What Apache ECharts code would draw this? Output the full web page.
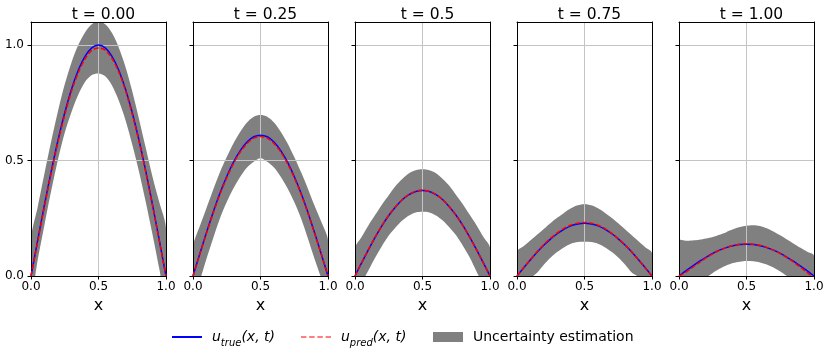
<!DOCTYPE html>
<html>
<head>
<meta charset="utf-8">
<script src="https://cdn.jsdelivr.net/npm/echarts@6/dist/echarts.min.js"></script>
<style>
  html, body { margin: 0; padding: 0; background: #fff; }
  #chart { width: 830px; height: 358px; }
</style>
</head>
<body>
<div id="chart"></div>
<script>
// x samples shared by all panels
const xs = [0, 0.05, 0.1, 0.15, 0.2, 0.25, 0.3, 0.35, 0.4, 0.45, 0.5, 0.55, 0.6, 0.65, 0.7, 0.75, 0.8, 0.85, 0.9, 0.95, 1]

const titles = ['t = 0.00', 't = 0.25', 't = 0.5', 't = 0.75', 't = 1.00']

// t = 0.00
const trueT000 = [0, 0.156, 0.309, 0.454, 0.588, 0.707, 0.809, 0.891, 0.951, 0.988, 1.0, 0.988, 0.951, 0.891, 0.809, 0.707, 0.588, 0.454, 0.309, 0.156, 0]
const predT000 = [0, 0.150, 0.302, 0.447, 0.580, 0.698, 0.800, 0.880, 0.940, 0.977, 0.987, 0.978, 0.942, 0.884, 0.803, 0.700, 0.583, 0.450, 0.305, 0.152, 0]
const upperT000 = [0.163, 0.30, 0.445, 0.585, 0.715, 0.83, 0.925, 1.0, 1.055, 1.09, 1.103, 1.09, 1.052, 0.99, 0.905, 0.80, 0.68, 0.555, 0.43, 0.32, 0.208]
const lowerT000 = [-0.10, 0.07, 0.222, 0.37, 0.505, 0.62, 0.71, 0.785, 0.84, 0.87, 0.877, 0.865, 0.825, 0.76, 0.675, 0.57, 0.453, 0.32, 0.18, 0.032, -0.12]

// t = 0.25
const trueT025 = [0, 0.095, 0.188, 0.277, 0.359, 0.431, 0.493, 0.543, 0.580, 0.603, 0.610, 0.603, 0.580, 0.543, 0.493, 0.431, 0.359, 0.277, 0.188, 0.095, 0]
const predT025 = [0, 0.093, 0.185, 0.273, 0.354, 0.425, 0.487, 0.537, 0.574, 0.597, 0.604, 0.597, 0.574, 0.537, 0.487, 0.426, 0.355, 0.274, 0.186, 0.094, 0]
const upperT025 = [0.127, 0.215, 0.295, 0.375, 0.45, 0.515, 0.575, 0.625, 0.665, 0.69, 0.697, 0.69, 0.665, 0.625, 0.575, 0.515, 0.45, 0.38, 0.305, 0.235, 0.156]
const lowerT025 = [-0.10, -0.02, 0.075, 0.165, 0.25, 0.32, 0.38, 0.43, 0.47, 0.495, 0.51, 0.495, 0.47, 0.43, 0.38, 0.32, 0.25, 0.165, 0.075, -0.01, -0.10]

// t = 0.5
const trueT050 = [0, 0.058, 0.114, 0.168, 0.218, 0.262, 0.299, 0.330, 0.352, 0.366, 0.370, 0.366, 0.352, 0.330, 0.299, 0.262, 0.218, 0.168, 0.114, 0.058, 0]
const predT050 = [0, 0.059, 0.115, 0.169, 0.219, 0.263, 0.300, 0.331, 0.353, 0.367, 0.372, 0.367, 0.353, 0.330, 0.299, 0.262, 0.217, 0.167, 0.113, 0.057, 0]
const upperT050 = [0.12, 0.17, 0.22, 0.265, 0.31, 0.35, 0.39, 0.42, 0.445, 0.458, 0.462, 0.458, 0.445, 0.42, 0.39, 0.35, 0.31, 0.265, 0.22, 0.17, 0.123]
const lowerT050 = [-0.09, -0.03, 0.025, 0.08, 0.13, 0.175, 0.21, 0.24, 0.262, 0.275, 0.278, 0.275, 0.262, 0.24, 0.21, 0.175, 0.13, 0.08, 0.02, -0.04, -0.10]

// t = 0.75
const trueT075 = [0, 0.036, 0.070, 0.104, 0.134, 0.161, 0.184, 0.203, 0.217, 0.225, 0.228, 0.225, 0.217, 0.203, 0.184, 0.161, 0.134, 0.104, 0.070, 0.036, 0]
const predT075 = [0, 0.037, 0.072, 0.106, 0.137, 0.164, 0.188, 0.207, 0.221, 0.229, 0.232, 0.229, 0.220, 0.206, 0.186, 0.162, 0.135, 0.104, 0.070, 0.035, 0]
const upperT075 = [0.105, 0.13, 0.155, 0.18, 0.205, 0.23, 0.253, 0.274, 0.293, 0.306, 0.312, 0.306, 0.293, 0.274, 0.252, 0.228, 0.202, 0.176, 0.15, 0.125, 0.10]
const lowerT075 = [-0.08, -0.045, -0.01, 0.015, 0.05, 0.08, 0.105, 0.125, 0.14, 0.147, 0.148, 0.147, 0.14, 0.125, 0.105, 0.08, 0.05, 0.015, -0.005, -0.045, -0.08]

// t = 1.00
const trueT100 = [0, 0.022, 0.043, 0.063, 0.081, 0.098, 0.112, 0.123, 0.131, 0.136, 0.138, 0.136, 0.131, 0.123, 0.112, 0.098, 0.081, 0.063, 0.043, 0.022, 0]
const predT100 = [0, 0.016, 0.037, 0.058, 0.078, 0.096, 0.111, 0.123, 0.132, 0.137, 0.140, 0.138, 0.133, 0.124, 0.112, 0.097, 0.080, 0.060, 0.038, 0.015, -0.008]
const upperT100 = [0.153, 0.153, 0.154, 0.157, 0.162, 0.169, 0.179, 0.19, 0.202, 0.212, 0.218, 0.22, 0.217, 0.207, 0.193, 0.176, 0.158, 0.14, 0.122, 0.105, 0.088]
const lowerT100 = [-0.135, -0.10, -0.065, -0.035, -0.008, 0.013, 0.031, 0.045, 0.056, 0.062, 0.065, 0.064, 0.059, 0.05, 0.037, 0.02, 0, -0.024, -0.053, -0.085, -0.12]

const yTicks = [0, 0.5, 1.0]

const panels = [
  [trueT000, predT000, upperT000, lowerT000],
  [trueT025, predT025, upperT025, lowerT025],
  [trueT050, predT050, upperT050, lowerT050],
  [trueT075, predT075, upperT075, lowerT075],
  [trueT100, predT100, upperT100, lowerT100]
]

const FONT = 'DejaVu Sans'
const GRID_LEFT = 31
const GRID_STEP = 162
const GRID_W = 135

const chart = echarts.init(document.getElementById('chart'))

const grids = []
const xAxes = []
const yAxes = []
const series = []
const titleList = []

panels.forEach((p, i) => {
  const left = GRID_LEFT + GRID_STEP * i
  grids.push({ left: left, top: 22, width: GRID_W, height: 254 })
  titleList.push({
    text: titles[i],
    left: left + GRID_W / 2,
    top: 2,
    textAlign: 'center',
    textStyle: { fontFamily: FONT, fontSize: 15.5, fontWeight: 'normal', color: '#000' }
  })
  // bottom x axis
  xAxes[i] = {
    gridIndex: i,
    type: 'value',
    min: 0,
    max: 1,
    interval: 0.5,
    z: 2,
    name: 'x',
    nameLocation: 'middle',
    nameGap: 19,
    nameTextStyle: { fontFamily: FONT, fontSize: 16, color: '#000' },
    axisLine: { show: true, onZero: false, lineStyle: { color: '#000', width: 1 } },
    axisTick: { show: true, length: 3.5, lineStyle: { color: '#000' } },
    axisLabel: { fontFamily: FONT, fontSize: 12, color: '#000', margin: 5, formatter: v => v.toFixed(1) },
    splitLine: { show: true, lineStyle: { color: '#c4c4c4', width: 1 } }
  }
  // top frame line
  xAxes[5 + i] = {
    gridIndex: i,
    type: 'value',
    position: 'top',
    min: 0,
    max: 1,
    z: 2,
    axisLine: { show: true, onZero: false, lineStyle: { color: '#000', width: 1 } },
    axisTick: { show: false },
    axisLabel: { show: false },
    splitLine: { show: false }
  }
  yAxes[i] = {
    gridIndex: i,
    type: 'value',
    min: 0,
    max: 1.1,
    interval: 0.5,
    z: 2,
    axisLine: { show: true, onZero: false, lineStyle: { color: '#000', width: 1 } },
    axisTick: { show: true, length: 3.5, customValues: yTicks, lineStyle: { color: '#000' } },
    axisLabel: { show: i === 0, customValues: yTicks, fontFamily: FONT, fontSize: 12, color: '#000', margin: 7, formatter: v => v.toFixed(1) },
    splitLine: { show: true, lineStyle: { color: '#c4c4c4', width: 1 } }
  }
  // right frame line
  yAxes[5 + i] = {
    gridIndex: i,
    type: 'value',
    position: 'right',
    min: 0,
    max: 1.1,
    z: 2,
    axisLine: { show: true, onZero: false, lineStyle: { color: '#000', width: 1 } },
    axisTick: { show: false },
    axisLabel: { show: false },
    splitLine: { show: false }
  }

  const [uTrue, uPred, upper, lower] = p
  const pairs = arr => xs.map((x, j) => [x, arr[j]])

  // uncertainty band: one polygon, upper edge then lower edge reversed
  series.push({
    type: 'custom',
    name: 'Uncertainty estimation',
    coordinateSystem: 'cartesian2d',
    xAxisIndex: i,
    yAxisIndex: i,
    data: xs.map((x, j) => [x, lower[j], upper[j]]),
    encode: { x: 0, y: [1, 2] },
    color: '#808080',
    clip: true,
    silent: true,
    z: 1,
    renderItem: (params, api) => {
      if (params.dataIndex !== 0) return null
      const top = xs.map((x, j) => api.coord([x, upper[j]]))
      const bottom = xs.map((x, j) => api.coord([x, lower[j]])).reverse()
      return {
        type: 'polygon',
        shape: { points: top.concat(bottom), smooth: 0.3 },
        style: { fill: '#808080', stroke: null }
      }
    }
  })
  series.push({
    type: 'line',
    name: 'u_true(x, t)',
    xAxisIndex: i,
    yAxisIndex: i,
    data: pairs(uTrue),
    symbol: 'none',
    smooth: 0.3,
    color: '#0000ff',
    lineStyle: { width: 1.5, color: '#0000ff' },
    z: 3
  })
  series.push({
    type: 'line',
    name: 'u_pred(x, t)',
    xAxisIndex: i,
    yAxisIndex: i,
    data: pairs(uPred),
    symbol: 'none',
    smooth: 0.3,
    color: '#ff0000',
    lineStyle: { width: 1.5, color: '#ff0000', type: [5, 2.2] },
    z: 4
  })
})

const legendText = {
  padding: [0, 0, 0, 5],
  rich: {
    i: { fontFamily: FONT, fontStyle: 'italic', fontSize: 14, color: '#000', lineHeight: 22, verticalAlign: 'middle' },
    s: { fontFamily: FONT, fontStyle: 'italic', fontSize: 10, color: '#000', lineHeight: 12, verticalAlign: 'bottom' },
    n: { fontFamily: FONT, fontSize: 14, color: '#000', lineHeight: 22 }
  }
}
const legendFormatter = name => {
  if (name === 'u_true(x, t)') return '{i|u}{s|true}{i|(x, t)}'
  if (name === 'u_pred(x, t)') return '{i|u}{s|pred}{i|(x, t)}'
  return '{n|' + name + '}'
}
const legendBase = { top: 330, padding: 0, itemWidth: 30, selectedMode: false, formatter: legendFormatter, textStyle: legendText }

chart.setOption({
  animation: false,
  backgroundColor: '#fff',
  title: titleList,
  grid: grids,
  xAxis: xAxes,
  yAxis: yAxes,
  legend: [
    Object.assign({}, legendBase, {
      left: 172,
      itemHeight: 2,
      data: [{ name: 'u_true(x, t)', icon: 'rect', itemStyle: { color: '#0000ff' } }]
    }),
    Object.assign({}, legendBase, {
      left: 301,
      itemHeight: 2,
      data: [{
        name: 'u_pred(x, t)',
        icon: 'path://M0,0h5v1h-5z M7.5,0h5v1h-5z M15,0h5v1h-5z M22.5,0h5v1h-5z',
        itemStyle: { color: '#ff0000' }
      }]
    }),
    Object.assign({}, legendBase, {
      left: 433,
      itemHeight: 10,
      data: [{ name: 'Uncertainty estimation', icon: 'rect', itemStyle: { color: '#808080' } }]
    })
  ],
  series: series
})
</script>
</body>
</html>
